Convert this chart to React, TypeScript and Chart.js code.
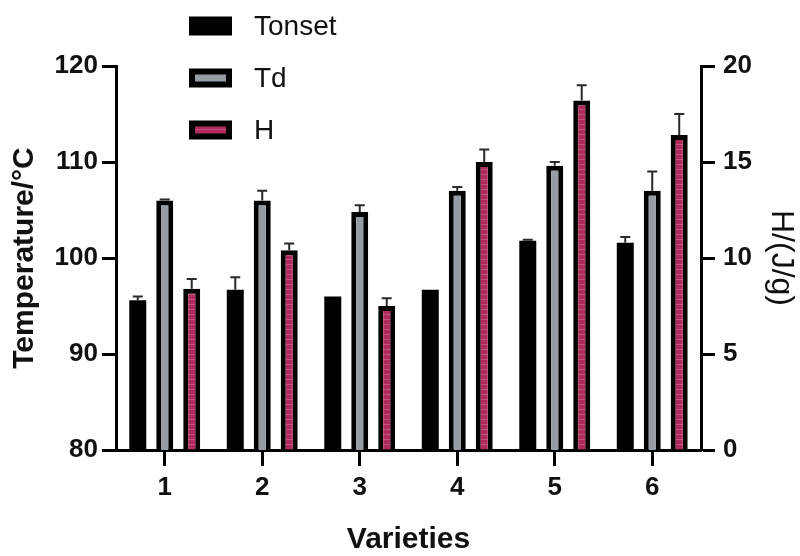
import React, { useEffect, useRef } from "react";
import { Chart, registerables } from "chart.js";

Chart.register(...registerables);

const varieties = ["1", "2", "3", "4", "5", "6"];
const tonset = [95.6, 96.7, 96.0, 96.7, 101.8, 101.6];
const tonsetErr = [0.4, 1.3, 0, 0, 0.1, 0.6];
const td = [106.0, 106.0, 104.8, 107.0, 109.6, 107.0];
const tdErr = [0.1, 1.0, 0.7, 0.4, 0.4, 2.0];
const hValues = [8.4, 10.4, 7.5, 15.0, 18.2, 16.4];
const hErr = [0.5, 0.35, 0.4, 0.65, 0.8, 1.1];

const FONT = "'Liberation Sans', Arial, Helvetica, sans-serif";

function makeStripePattern(): CanvasPattern | string {
  const c = document.createElement("canvas");
  c.width = 4;
  c.height = 5;
  const g = c.getContext("2d");
  if (!g) return "#b22b5b";
  g.fillStyle = "#b02a5c";
  g.fillRect(0, 0, 4, 5);
  g.fillStyle = "#c4527e";
  g.fillRect(0, 4, 4, 1);
  const p = g.createPattern(c, "repeat");
  return p || "#b22b5b";
}

const errorBarPlugin = {
  id: "errorBars",
  afterDatasetsDraw(chart: any) {
    const ctx = chart.ctx;
    chart.data.datasets.forEach((ds: any, i: number) => {
      const meta = chart.getDatasetMeta(i);
      const scale = chart.scales[meta.yAxisID];
      const errs: number[] = ds.errors || [];
      meta.data.forEach((bar: any, j: number) => {
        const e = errs[j];
        if (!e) return;
        const v = ds.data[j];
        const yTop = bar.y;
        const yErr = scale.getPixelForValue(v + e);
        ctx.save();
        ctx.strokeStyle = "#2a2a2a";
        ctx.lineWidth = 2;
        ctx.beginPath();
        ctx.moveTo(bar.x, yTop);
        ctx.lineTo(bar.x, yErr);
        ctx.moveTo(bar.x - 5, yErr);
        ctx.lineTo(bar.x + 5, yErr);
        ctx.stroke();
        ctx.restore();
      });
    });
  },
};

const legendPlugin = {
  id: "customLegend",
  afterDraw(chart: any) {
    const ctx = chart.ctx;
    const boxX = 189;
    const boxW = 43;
    const boxH = 19;
    const textX = 254;
    const centers = [26, 78, 130];
    ctx.save();
    chart.data.datasets.forEach((ds: any, i: number) => {
      const cy = centers[i];
      const top = cy - boxH / 2;
      ctx.fillStyle = "#000";
      ctx.fillRect(boxX, top, boxW, boxH);
      if (ds.borderWidth > 0) {
        const bw = 6;
        ctx.fillStyle = ds.backgroundColor;
        ctx.fillRect(boxX + bw, top + bw, boxW - 2 * bw, boxH - 2 * bw);
      }
      ctx.fillStyle = "#111";
      ctx.font = `28px ${FONT}`;
      ctx.textAlign = "left";
      ctx.textBaseline = "middle";
      ctx.fillText(ds.label, textX, cy + 1);
    });
    ctx.restore();
  },
};

export default function App() {
  const ref = useRef<HTMLCanvasElement>(null);

  useEffect(() => {
    if (!ref.current) return;
    const pink = makeStripePattern();
    const chart = new Chart(ref.current, {
      type: "bar",
      data: {
        labels: varieties,
        datasets: [
          {
            label: "Tonset",
            data: tonset,
            errors: tonsetErr,
            backgroundColor: "#000000",
            borderColor: "#000000",
            borderWidth: 0,
            yAxisID: "y",
          } as any,
          {
            label: "Td",
            data: td,
            errors: tdErr,
            backgroundColor: "#969ca4",
            borderColor: "#000000",
            borderWidth: 5,
            yAxisID: "y",
          } as any,
          {
            label: "H",
            data: hValues,
            errors: hErr,
            backgroundColor: pink,
            borderColor: "#000000",
            borderWidth: 5,
            yAxisID: "y1",
          } as any,
        ],
      },
      options: {
        responsive: false,
        animation: false,
        devicePixelRatio: 1,
        layout: { padding: { top: 66, left: 0, right: 0, bottom: 0 } },
        datasets: {
          bar: { categoryPercentage: 0.83, barPercentage: 0.63 },
        },
        plugins: {
          legend: { display: false },
          tooltip: { enabled: false },
        },
        scales: {
          x: {
            offset: true,
            grid: {
              offset: false,
              drawOnChartArea: false,
              drawTicks: true,
              tickLength: 16,
              tickWidth: 3,
              color: "#000",
            },
            border: { display: true, color: "#000", width: 3 },
            ticks: {
              color: "#111",
              padding: 6,
              font: { family: FONT, size: 26, weight: "bold" },
            },
            title: {
              display: true,
              text: "Varieties",
              color: "#111",
              padding: 0,
              font: { family: FONT, size: 30, weight: "bold", lineHeight: 1.1 },
            },
            afterFit(scale: any) {
              scale.height = 106;
            },
          },
          y: {
            position: "left",
            min: 80,
            max: 120,
            ticks: {
              stepSize: 10,
              color: "#111",
              padding: 4,
              font: { family: FONT, size: 26, weight: "bold" },
            },
            grid: {
              drawOnChartArea: false,
              drawTicks: true,
              tickLength: 14,
              tickWidth: 3,
              color: "#000",
            },
            border: { display: true, color: "#000", width: 3 },
            title: {
              display: true,
              text: "Temperature/\u00b0C",
              color: "#111",
              padding: { top: 7, bottom: 0 },
              font: { family: FONT, size: 30, weight: "bold", lineHeight: 1.2 },
            },
            afterFit(scale: any) {
              scale.width = 116;
            },
          },
          y1: {
            position: "right",
            min: 0,
            max: 20,
            ticks: {
              stepSize: 5,
              color: "#111",
              padding: 8,
              font: { family: FONT, size: 26, weight: "bold" },
            },
            grid: {
              drawOnChartArea: false,
              drawTicks: true,
              tickLength: 14,
              tickWidth: 3,
              color: "#000",
            },
            border: { display: true, color: "#000", width: 3 },
            title: {
              display: true,
              text: "H/(J/g)",
              color: "#111",
              padding: { top: 0, bottom: 0 },
              font: { family: FONT, size: 32, weight: "normal", lineHeight: 1.2 },
            },
            afterFit(scale: any) {
              scale.width = 99;
            },
          },
        },
      } as any,
      plugins: [errorBarPlugin, legendPlugin],
    });
    return () => chart.destroy();
  }, []);

  return (
    <div style={{ position: "fixed", left: 0, top: 0, width: 800, height: 556, background: "#fff" }}>
      <canvas ref={ref} width={800} height={556} />
    </div>
  );
}
